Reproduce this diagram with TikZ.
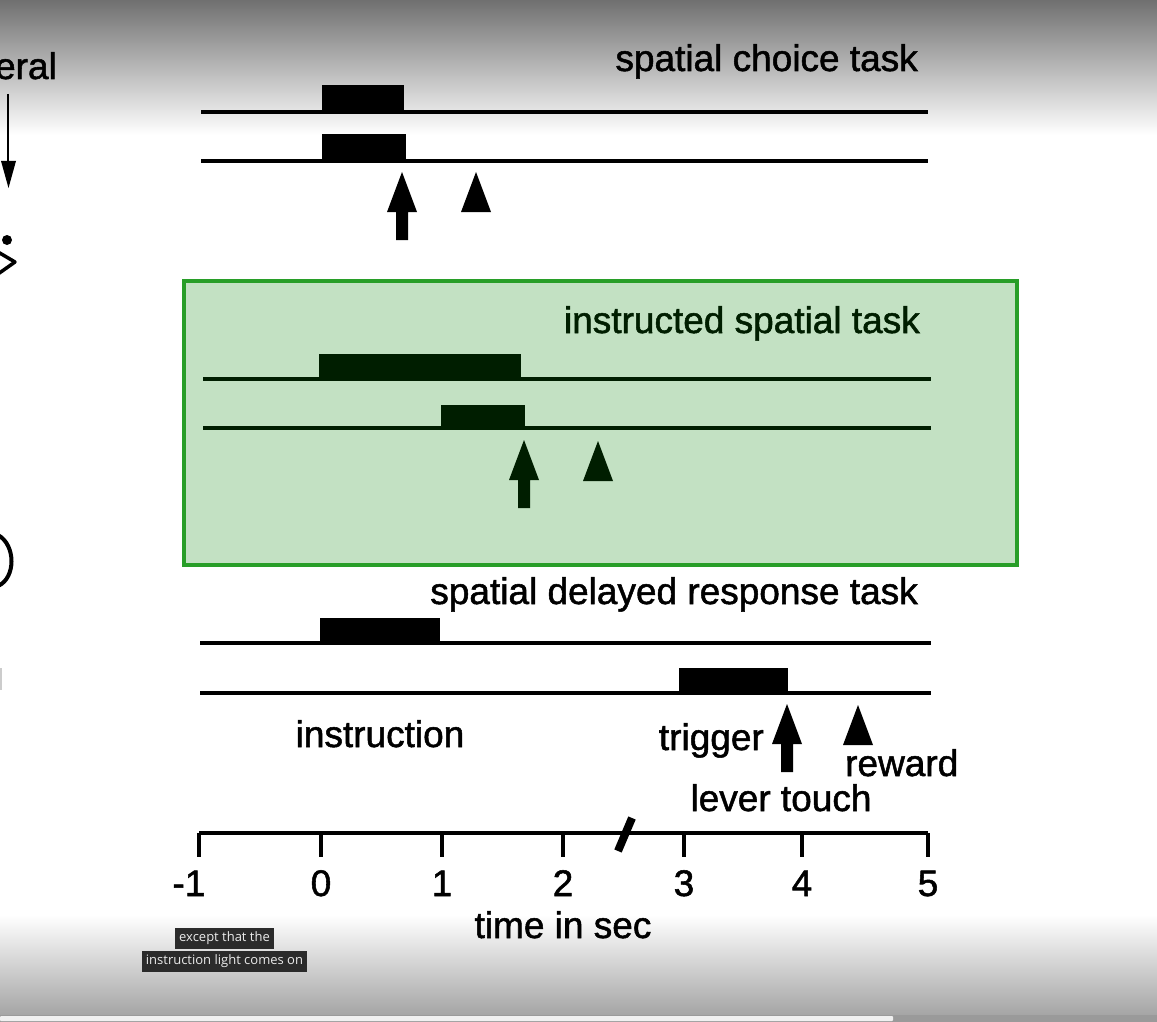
\documentclass[tikz,border=0pt]{standalone}
\usepackage{fontspec}
\setmainfont{Liberation Sans}
\newfontfamily\figfont{Liberation Sans}[FakeBold=1.4]
\newfontfamily\captionfont{Open Sans}
\usetikzlibrary{positioning}

\definecolor{hlgreen}{RGB}{0,128,0}
\definecolor{hlborder}{RGB}{40,158,40}
\definecolor{capbg}{RGB}{43,43,43}
\definecolor{topgray}{RGB}{112,112,112}
\definecolor{botgray}{RGB}{164,164,164}
\definecolor{midgray}{RGB}{222,222,222}
\definecolor{bargray}{RGB}{154,154,154}

% lever touch arrow and reward triangle, tip at (#1,#2)
\newcommand{\levermark}[2]{\fill (#1,#2) -- ++(15,40) -- ++(-9,0) -- ++(0,28) -- ++(-12,0) -- ++(0,-28) -- ++(-9,0) -- cycle;}
\newcommand{\rewardmark}[2]{\fill (#1,#2) -- ++(15,40) -- ++(-30,0) -- cycle;}

\begin{document}
\begin{tikzpicture}[
x=1pt, y=-1pt,
trace/.style={line width=3.4pt},
axisline/.style={line width=3.8pt},
figtext/.style={font=\figfont\fontsize{37}{40}\selectfont, inner sep=0pt},
tasktitle/.style={figtext, anchor=base east},
ticklabel/.style={figtext, anchor=base},
capline/.style={fill=capbg, text=white!92!black, font=\captionfont\fontsize{13}{15}\selectfont, inner xsep=4pt, minimum height=21pt}
]
\useasboundingbox (0,0) rectangle (1157,1022);

% Video frame shading
\fill[white] (0,0) rectangle (1157,1022);
\shade[top color=topgray, bottom color=white] (0,0) rectangle (1157,135);
\shade[top color=white, middle color=midgray, bottom color=botgray] (0,915) rectangle (1157,1016);
\fill[bargray] (0,1015) rectangle (1157,1022);
\fill[white!94!black, rounded corners=1pt] (0,1016) rectangle (893,1021);

% Cut-off part of the slide (left edge)
\node[tasktitle] (lefttext) at (57,79) {eral};
\draw[line width=2.6pt] (8,94) -- (8,165);
\fill (1,161) -- (16,161) -- (8.5,188) -- cycle;
\fill (7,240) circle (5);
\draw[line width=3.5pt, line join=round] (-2,252) -- (15,262) -- (-2,274);
\draw[line width=4pt] (-2,535) .. controls (16,545) and (16,578) .. (-2,586);
\draw[line width=2pt, black!20] (1,668) -- (1,690);

% Spatial choice task
\node[tasktitle] (choice) at (918,71) {spatial choice task};
\fill (322,85) rectangle (404,112);
\draw[trace] (201,112) -- (928,112);
\fill (322,134) rectangle (406,161);
\draw[trace] (201,161) -- (928,161);
\levermark{402}{172}
\rewardmark{476}{172}

% Instructed spatial task
\node[tasktitle] (instructed) at (920,333) {instructed spatial task};
\fill (319,354) rectangle (521,379);
\draw[trace] (203,379) -- (931,379);
\fill (441,405) rectangle (525,428);
\draw[trace] (203,428) -- (931,428);
\levermark{524}{440}
\rewardmark{598}{441}

% Spatial delayed response task
\node[tasktitle] (delayed) at (918,604) {spatial delayed response task};
\fill (320,618) rectangle (440,643);
\draw[trace] (200,643) -- (931,643);
\fill (679,668) rectangle (788,693);
\draw[trace] (200,693) -- (931,693);
\levermark{787}{704}
\rewardmark{858}{705}

\node[figtext, anchor=base] (instruction) at (380,747) {instruction};
\node[figtext, anchor=base east] (trigger) at (764,750) {trigger};
\node[figtext, anchor=base west] (reward) at (845,776) {reward};
\node[figtext, anchor=base] (levertouch) at (781,811) {lever touch};

% Time axis
\draw[axisline] (199,833) -- (928,833);
\foreach \x/\t in {321/0, 442/1, 563/2, 684/3, 802/4, 928/5}{
  \draw[axisline] (\x,833) -- (\x,857);
  \node[ticklabel] (tick\t) at (\x,896) {\t};
}
\draw[axisline] (199,833) -- (199,857);
\node[ticklabel] (tickm) at (189,896) {-1};
\draw[line width=8pt] (618,851) -- (632,818);
\node[ticklabel] (timelabel) at (563,938) {time in sec};

% Highlight over the middle task
\fill[hlgreen, opacity=0.235] (184,281) rectangle (1017,565);
\draw[hlborder, line width=3.4pt] (184,281) rectangle (1017,565);

% Subtitle
\node[capline] (subtwo) at (224.5,961.5) {instruction light comes on};
\node[capline, above=2pt of subtwo] (subone) {except that the};

\end{tikzpicture}
\end{document}
